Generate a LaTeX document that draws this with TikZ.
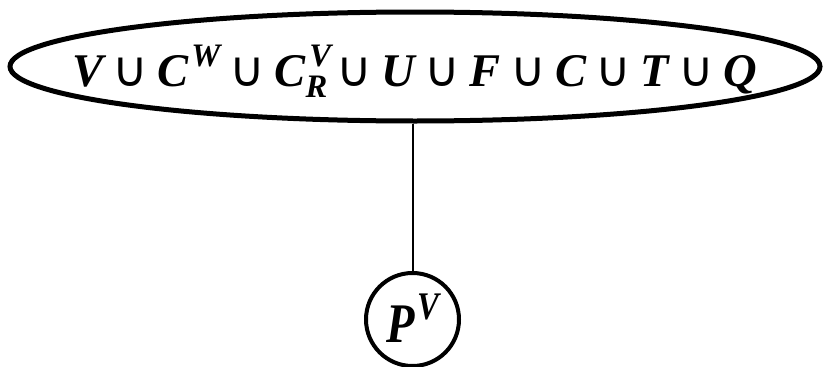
\documentclass[tikz,border=0pt]{standalone}
\usepackage{fontspec}
\usepackage{graphicx}
\setmainfont{Liberation Serif}
\newfontfamily\cupfont{DejaVu Sans}
\usetikzlibrary{shapes.geometric}
\newcommand{\un}{\hspace{2.0pt}{\cupfont\mdseries\upshape\fontsize{10.5}{10.5}\selectfont ∪}\hspace{2.0pt}}
\newcommand{\sups}[1]{\kern0.6pt\raisebox{4.1pt}{\fontsize{7}{7}\selectfont #1}}
\newcommand{\supsub}[2]{\rlap{\kern0.8pt\raisebox{4.1pt}{\fontsize{7}{7}\selectfont #1}}\raisebox{-2.4pt}{\fontsize{7}{7}\selectfont #2}}
\newsavebox\settextbox
\newsavebox\ptextbox
\begin{document}
\sbox\settextbox{\fontsize{10}{10}\selectfont\bfseries\itshape V\un C\sups{W}\un C\supsub{V}{R}\un U\un F\un C\un T\un Q}%
\sbox\ptextbox{\fontsize{10}{10}\selectfont\bfseries\itshape P\sups{V}}%
\pgfmathsetmacro\sxa{685/\wd\settextbox}%
\pgfmathsetmacro\sya{31/6.62}%
\pgfmathsetmacro\sxb{53/\wd\ptextbox}%
\pgfmathsetmacro\syb{37/6.62}%
\begin{tikzpicture}[x=1pt,y=-1pt,
  setshape/.style={draw, ellipse, line width=5pt, inner sep=0pt, minimum width=810pt, minimum height=109pt},
  circshape/.style={draw, circle, line width=4pt, inner sep=0pt, minimum size=93pt},
  conn/.style={line width=2pt},
  txt/.style={inner sep=0pt, outer sep=0pt, anchor=base west}]
\useasboundingbox (0,0) rectangle (823,367);
\node[setshape] (set) at (415,66.5) {};
\node[txt] (settext) at (72,86) {\scalebox{\sxa}[\sya]{\usebox\settextbox}};
\node[circshape] (circ) at (412.5,319.5) {};
\node[txt] (ptext) at (386,342) {\scalebox{\sxb}[\syb]{\usebox\ptextbox}};
\draw[conn] (set.south -| circ.north) -- (circ.north);
\end{tikzpicture}
\end{document}
